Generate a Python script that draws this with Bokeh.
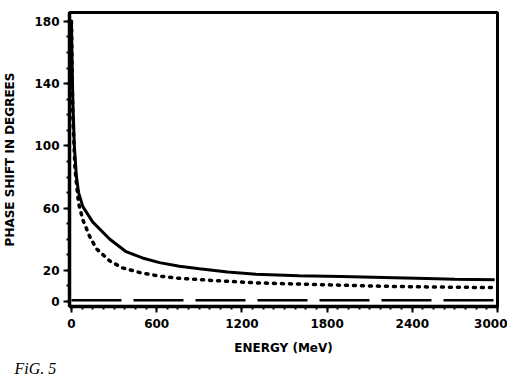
from bokeh.plotting import figure
from bokeh.models import Range1d, FixedTicker, Title
from bokeh.embed import file_html
from bokeh.resources import INLINE

# ---- data ----
energy_solid = [0, 5, 10, 20, 35, 50, 80, 150, 270, 385, 500, 620, 760, 900,
                1100, 1300, 1600, 1900, 2200, 2500, 2700, 2980]
phase_solid = [180, 150, 128, 100, 80, 70, 61, 51, 40, 32, 28, 25, 22.7, 21,
               19, 17.5, 16.5, 16, 15.4, 14.8, 14.3, 14]

energy_dot = [0, 5, 10, 25, 50, 80, 127, 175, 270, 360, 490, 620, 750, 1000,
              1300, 1600, 1900, 2200, 2500, 2800, 2980]
phase_dot = [180, 140, 118, 85, 63, 52.5, 42, 34, 26, 21.6, 18.4, 16.3, 15,
             13.5, 12, 11.2, 10.5, 9.8, 9.4, 9.1, 9]

energy_dash = [0, 2980]
phase_dash = [0.8, 0.8]

x_ticks = [0, 600, 1200, 1800, 2400, 3000]
x_minor = [i * 75 for i in range(0, 41)]
y_ticks = [0, 20, 60, 100, 140, 180]
y_minor = [i * 10 for i in range(0, 19)]

p = figure(frame_width=428, frame_height=294, output_backend="svg",
           toolbar_location=None,
           x_range=Range1d(-14, 3000), y_range=Range1d(-3.2, 185.7),
           min_border_left=66, min_border_right=10, min_border_top=12,
           min_border_bottom=50)

p.background_fill_color = "white"
p.border_fill_color = "white"
p.outline_line_color = "black"
p.outline_line_width = 3
p.xgrid.visible = False
p.ygrid.visible = False

p.line(energy_solid, phase_solid, line_color="black", line_width=3)
p.line(energy_dot, phase_dot, line_color="black", line_width=3.5,
       line_dash="2 6", line_cap="round")
p.line(energy_dash, phase_dash, line_color="black", line_width=2.5,
       line_dash="50 12")

for ax, ticks, minor in ((p.xaxis[0], x_ticks, x_minor), (p.yaxis[0], y_ticks, y_minor)):
    ax.ticker = FixedTicker(ticks=ticks, minor_ticks=minor)
    ax.axis_line_width = 3.5
    ax.axis_line_color = "black"
    ax.major_tick_line_width = 2
    ax.major_tick_line_color = "black"
    ax.minor_tick_line_width = 2
    ax.minor_tick_line_color = "black"
    ax.major_tick_in = 0
    ax.major_tick_out = 6
    ax.minor_tick_in = 0
    ax.minor_tick_out = 3
    ax.major_label_text_font = "DejaVu Sans"
    ax.major_label_text_font_style = "bold"
    ax.major_label_text_font_size = "12px"
    ax.major_label_text_color = "black"
    ax.axis_label_text_font = "DejaVu Sans"
    ax.axis_label_text_font_style = "bold"
    ax.axis_label_text_color = "black"

p.xaxis.axis_label = "ENERGY (MeV)"
p.xaxis.axis_label_text_font_size = "12px"
p.xaxis.major_label_standoff = 6
p.xaxis.axis_label_standoff = 10
p.yaxis.axis_label = "PHASE SHIFT IN DEGREES"
p.yaxis.axis_label_text_font_size = "12px"
p.yaxis.major_label_standoff = 4
p.yaxis.axis_label_standoff = 14
p.yaxis.major_label_orientation = "horizontal"

fig_title = Title(text="FiG. 5", align="left", offset=-55,
                  text_font="Liberation Serif", text_font_style="italic",
                  text_font_size="16px", text_color="black",
                  standoff=0)
p.add_layout(fig_title, "below")

open("out.html", "w").write(file_html(p, INLINE))
